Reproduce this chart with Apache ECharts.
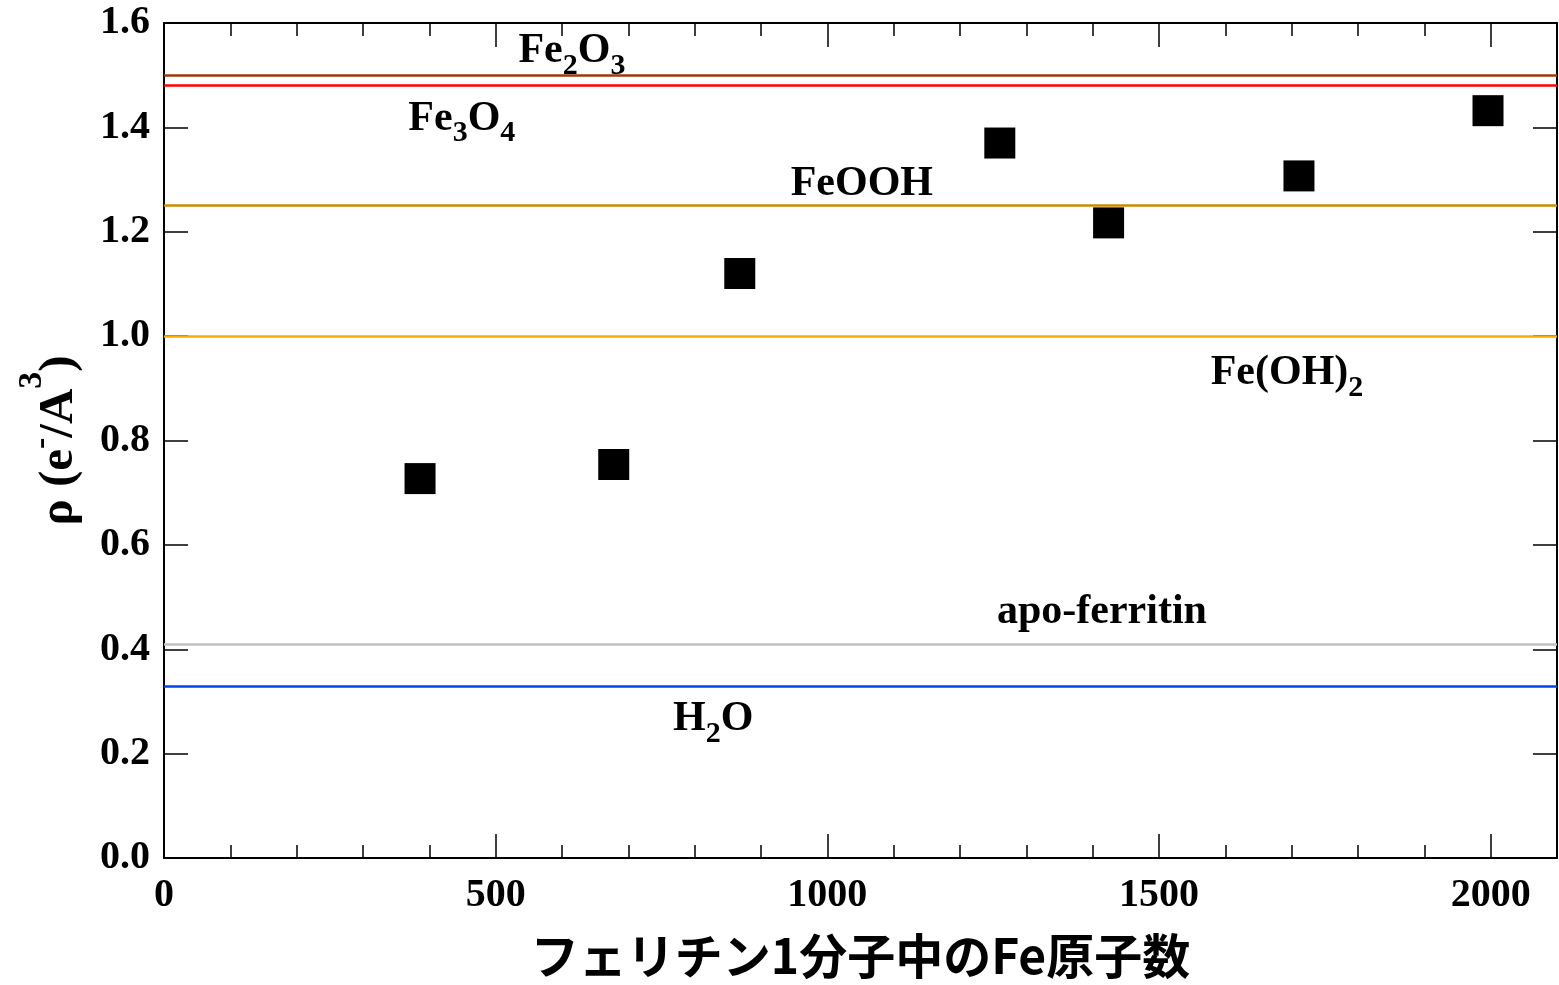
<!DOCTYPE html>
<html>
<head>
<meta charset="utf-8">
<script src="https://cdn.jsdelivr.net/npm/echarts@6/dist/echarts.min.js"></script>
<style>
html,body{margin:0;padding:0;background:#fff;}
#chart{width:1559px;height:985px;}
</style>
</head>
<body>
<div id="chart"></div>
<script>
// ---- data ----
const feAtoms = [386, 678, 868, 1260, 1424, 1711, 1996];
const rhoValues = [0.727, 0.754, 1.120, 1.370, 1.217, 1.307, 1.432];

const refNames = ['Fe2O3', 'Fe3O4', 'FeOOH', 'Fe(OH)2', 'apo-ferritin', 'H2O'];
const refValues = [1.50, 1.48, 1.247, 1.0, 0.414, 0.333];

const yTickLabels = ['0.0', '0.2', '0.4', '0.6', '0.8', '1.0', '1.2', '1.4', '1.6'];
const xTickLabels = ['0', '500', '1000', '1500', '2000'];

// ---- styling / layout (not data) ----
const refColors = ['#9c3a0a', '#ff0000', '#cc8a00', '#ffab00', '#c0c0c0', '#0044ee'];
// anchor of each reference label (data units)
const labelAnchorX = [615, 449, 1052, 1693, 1414, 828];
const labelAnchorY = [1.537, 1.408, 1.291, 0.920, 0.471, 0.257];
const labelRich = [
  '{m|Fe}{s|2}{m|O}{s|3}',
  '{m|Fe}{s|3}{m|O}{s|4}',
  '{p|FeOOH}',
  '{m|Fe(OH)}{s|2}',
  '{p|apo-ferritin}',
  '{m|H}{s|2}{m|O}'
];

const SERIF = '"Liberation Serif", "Times New Roman", serif';

const chart = echarts.init(document.getElementById('chart'), null, {renderer: 'canvas'});

const gridRect = {left: 164, right: 2, top: 23, bottom: 127};

function minorX(gridIndex, position) {
  return {
    type: 'value', gridIndex: gridIndex, position: position,
    min: 0, max: 2100, interval: 100,
    axisLine: {show: true, onZero: false, lineStyle: {color: '#000', width: 2}},
    axisTick: {show: true, inside: true, length: 13, lineStyle: {color: '#000', width: 1.5}},
    axisLabel: {show: false},
    splitLine: {show: false}
  };
}
function majorX(gridIndex, position, withLabels) {
  const ax = {
    type: 'value', gridIndex: gridIndex, position: position,
    min: 0, max: 2100, interval: 500,
    axisLine: {show: false, onZero: false},
    axisTick: {show: true, inside: true, length: 24, lineStyle: {color: '#000', width: 1.5}},
    axisLabel: {show: false},
    splitLine: {show: false}
  };
  if (withLabels) {
    ax.axisLabel = {
      show: true, showMaxLabel: false, margin: 18,
      fontFamily: SERIF, fontWeight: 'bold', fontSize: 40, color: '#000',
      formatter: function (v) {
        const i = Math.round(v / 500);
        return (v % 500 === 0 && i < xTickLabels.length) ? xTickLabels[i] : '';
      }
    };
    ax.name = 'フェリチン1分子中のFe原子数';
    ax.nameLocation = 'middle';
    ax.nameGap = 74;
    ax.nameTextStyle = {
      fontFamily: '"Noto Sans CJK JP", sans-serif', fontWeight: 'bold',
      fontSize: 48, color: '#000'
    };
  }
  return ax;
}
function yAx(gridIndex, position, withLabels, show) {
  const ax = {
    type: 'value', gridIndex: gridIndex, position: position, show: show,
    min: 0, max: 1.6, interval: 0.2,
    axisLine: {show: true, onZero: false, lineStyle: {color: '#000', width: 2}},
    axisTick: {show: true, inside: true, length: 24, lineStyle: {color: '#000', width: 1.5}},
    axisLabel: {show: false},
    splitLine: {show: false}
  };
  if (withLabels) {
    ax.axisLabel = {
      show: true, margin: 14,
      fontFamily: SERIF, fontWeight: 'bold', fontSize: 40, color: '#000',
      formatter: function (v) { return yTickLabels[Math.round(v / 0.2)]; }
    };
    ax.name = '{m|ρ (e}{q|-}{m|/A}{p|3}{m|)}';
    ax.nameLocation = 'middle';
    ax.nameRotate = 90;
    ax.nameGap = 80;
    ax.nameTextStyle = {
      rich: {
        m: {fontFamily: SERIF, fontWeight: 'bold', fontSize: 49, color: '#000',
            height: 49, padding: [20, 0, 0, 0], verticalAlign: 'bottom'},
        p: {fontFamily: SERIF, fontWeight: 'bold', fontSize: 34, color: '#000',
            height: 34, verticalAlign: 'top'},
        q: {fontFamily: SERIF, fontWeight: 'bold', fontSize: 34, color: '#000',
            height: 34, padding: [10, 0, 0, 0], verticalAlign: 'top'}
      }
    };
  }
  return ax;
}

const markLineData = refValues.map(function (v, i) {
  return {
    name: refNames[i], yAxis: v,
    lineStyle: {color: refColors[i], width: 2.5, type: 'solid', opacity: 1}
  };
});

const labelData = refNames.map(function (n, i) {
  return {value: [labelAnchorX[i], labelAnchorY[i]], label: {formatter: labelRich[i]}};
});

const option = {
  backgroundColor: '#fff',
  animation: false,
  grid: [
    Object.assign({}, gridRect),
    Object.assign({}, gridRect)
  ],
  xAxis: [
    minorX(0, 'bottom'),
    minorX(0, 'top'),
    majorX(1, 'bottom', true),
    majorX(1, 'top', false)
  ],
  yAxis: [
    yAx(0, 'left', true, true),
    yAx(0, 'right', false, true),
    yAx(1, 'left', false, false),
    yAx(1, 'right', false, false)
  ],
  series: [
    {
      name: 'refs', type: 'scatter', xAxisIndex: 0, yAxisIndex: 0,
      data: [], silent: true,
      markLine: {
        silent: true, symbol: ['none', 'none'],
        label: {show: false},
        data: markLineData
      }
    },
    {
      name: 'rho', type: 'scatter', xAxisIndex: 0, yAxisIndex: 0,
      symbol: 'rect', symbolSize: 31,
      itemStyle: {color: '#000', opacity: 1},
      data: feAtoms.map(function (x, i) { return [x, rhoValues[i]]; }),
      z: 5
    },
    {
      name: 'labels', type: 'scatter', xAxisIndex: 0, yAxisIndex: 0,
      symbolSize: 0, silent: true, z: 6,
      itemStyle: {opacity: 1, color: '#000'},
      label: {
        show: true, position: 'inside', color: '#000', opacity: 1,
        rich: {
          m: {fontFamily: SERIF, fontWeight: 'bold', fontSize: 42, color: '#000',
              lineHeight: 44, verticalAlign: 'top'},
          s: {fontFamily: SERIF, fontWeight: 'bold', fontSize: 30, color: '#000',
              height: 30, padding: [21, 0, 0, 0], verticalAlign: 'bottom'},
          p: {fontFamily: SERIF, fontWeight: 'bold', fontSize: 42, color: '#000',
              lineHeight: 44}
        }
      },
      data: labelData
    }
  ]
};

chart.setOption(option);
</script>
</body>
</html>
